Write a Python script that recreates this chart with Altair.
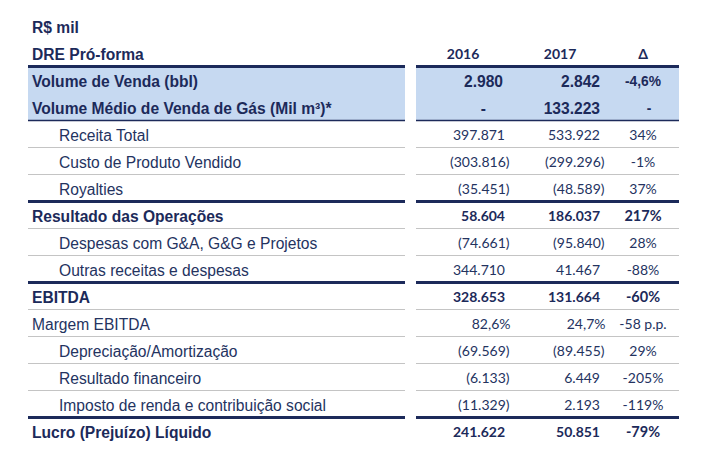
import altair as alt
import pandas as pd

# ---------------- data ----------------
unit_label = "R$ mil"
table_title = "DRE Pró-forma"
col_headers = ["2016", "2017", "Δ"]

band_labels = ["Volume de Venda (bbl)", "Volume Médio de Venda de Gás (Mil m³)*"]
band_2016 = ["2.980", "-"]
band_2017 = ["2.842", "133.223"]
band_delta = ["-4,6%", "-"]

labels = ["Receita Total", "Custo de Produto Vendido", "Royalties",
          "Resultado das Operações", "Despesas com G&A, G&G e Projetos",
          "Outras receitas e despesas", "EBITDA", "Margem EBITDA",
          "Depreciação/Amortização", "Resultado financeiro",
          "Imposto de renda e contribuição social", "Lucro (Prejuízo) Líquido"]
indent = [1, 1, 1, 0, 1, 1, 0, 0, 1, 1, 1, 0]
bold = [0, 0, 0, 1, 0, 0, 1, 0, 0, 0, 0, 1]
v2016 = ["397.871", "(303.816)", "(35.451)", "58.604", "(74.661)", "344.710",
         "328.653", "82,6%", "(69.569)", "(6.133)", "(11.329)", "241.622"]
v2017 = ["533.922", "(299.296)", "(48.589)", "186.037", "(95.840)", "41.467",
         "131.664", "24,7%", "(89.455)", "6.449", "2.193", "50.851"]
delta = ["34%", "-1%", "37%", "217%", "28%", "-88%", "-60%", "-58 p.p.",
         "29%", "-205%", "-119%", "-79%"]

# ---------------- layout ----------------
W, H = 691, 450
NAVY = "#1c2a5a"
NAVY_TXT = "#24335f"
BAND = "#c6d9f1"
GRID = "#c4c4c4"
LEFT = (20, 397)
RIGHT = (408, 671)
X_LABEL, X_INDENT = 24, 51
X_2016, X_2017, X_DELTA = 497, 592, 635
HANG = {")": 4.5, "%": 5.5}

def right_x(base, s):
    return base + HANG.get(s[-1], 0)

texts = []
texts.append(dict(text=unit_label, x=X_LABEL, y=0, style="lab_b"))
texts.append(dict(text=table_title, x=X_LABEL, y=1, style="lab_b"))
for i, h in enumerate(col_headers):
    texts.append(dict(text=h, x=[455, 552, 635][i], y=1, style="head"))

for i, lab in enumerate(band_labels):
    r = 2 + i
    texts.append(dict(text=lab, x=X_LABEL, y=r, style="lab_b"))
    for base, s in ((495, band_2016[i]), (592, band_2017[i])):
        x = base - 17 if s == "-" else base
        texts.append(dict(text=s, x=x, y=r, style="band_num"))
    d = band_delta[i]
    texts.append(dict(text=d, x=X_DELTA + (6 if d == "-" else 0), y=r, style="band_delta"))

for i, lab in enumerate(labels):
    r = 4 + i
    b = bold[i] == 1
    texts.append(dict(text=lab, x=X_INDENT if indent[i] else X_LABEL, y=r,
                      style="lab_b" if b else "lab"))
    texts.append(dict(text=v2016[i], x=right_x(X_2016, v2016[i]), y=r,
                      style="num_r_b" if b else "num_r"))
    texts.append(dict(text=v2017[i], x=right_x(X_2017, v2017[i]), y=r,
                      style="num_r_b" if b else "num_r"))
    texts.append(dict(text=delta[i], x=X_DELTA, y=r,
                      style="num_c_b" if b else "num_c"))

tdf = pd.DataFrame(texts)

bands = pd.DataFrame([dict(x=a, x2=b, y=1.5, y2=3.5) for a, b in (LEFT, RIGHT)])

thick = [1.5, 6.5, 9.5, 14.5]
medium = [3.5]
thin = [4.5, 5.5, 7.5, 8.5, 10.5, 11.5, 12.5, 13.5]
rules = []
for a, b in (LEFT, RIGHT):
    for y in thick:
        rules.append(dict(x=a, x2=b, y=y, w=3.0, c=NAVY))
    for y in medium:
        rules.append(dict(x=a, x2=b, y=y, w=1.5, c=NAVY))
    for y in thin:
        rules.append(dict(x=a, x2=b, y=y, w=1.0, c=GRID))
rdf = pd.DataFrame(rules)

xs = alt.Scale(domain=[0, W], range=[0, W], nice=False, zero=False)
ys = alt.Scale(domain=[-0.667, 16.0], reverse=True, nice=False, zero=False)
X = lambda f: alt.X(f, scale=xs, axis=None)
Y = lambda f: alt.Y(f, scale=ys, axis=None)

band_layer = alt.Chart(bands).mark_rect(color=BAND).encode(
    x=X("x:Q"), x2="x2:Q", y=Y("y:Q"), y2="y2:Q")

rule_layer = alt.Chart(rdf).mark_rule().encode(
    x=X("x:Q"), x2="x2:Q", y=Y("y:Q"),
    size=alt.Size("w:Q", scale=None, legend=None),
    color=alt.Color("c:N", scale=None, legend=None))

def tl(style, **kw):
    return alt.Chart(tdf).transform_filter(alt.datum.style == style).mark_text(
        baseline="middle", dy=1.5, **kw).encode(x=X("x:Q"), y=Y("y:Q"), text="text:N")

ARIAL = "Liberation Sans"
CAL = "Lato"
layers = [
    band_layer, rule_layer,
    tl("lab", align="left", font=ARIAL, fontSize=15.6, color=NAVY_TXT),
    tl("lab_b", align="left", font=ARIAL, fontSize=15.6, fontWeight="bold", color=NAVY),
    tl("head", align="center", font=CAL, fontSize=14, fontWeight="bold", color=NAVY),
    tl("band_num", align="right", font=ARIAL, fontSize=15.6, fontWeight="bold", color=NAVY),
    tl("band_delta", align="center", font=ARIAL, fontSize=13.8, fontWeight="bold", color=NAVY),
    tl("num_r", align="right", font=CAL, fontSize=14, color=NAVY_TXT),
    tl("num_r_b", align="right", font=CAL, fontSize=14, fontWeight="bold", color=NAVY),
    tl("num_c", align="center", font=CAL, fontSize=14, color=NAVY_TXT),
    tl("num_c_b", align="center", font=CAL, fontSize=14.5, fontWeight="bold", color=NAVY),
]

chart = alt.layer(*layers).properties(
    width=W, height=H, padding=0, background="white",
    autosize=alt.AutoSizeParams(type="none"),
).configure_view(stroke="transparent", strokeWidth=0)

chart.save("out.html", embed_options={"renderer": "svg", "actions": False})
